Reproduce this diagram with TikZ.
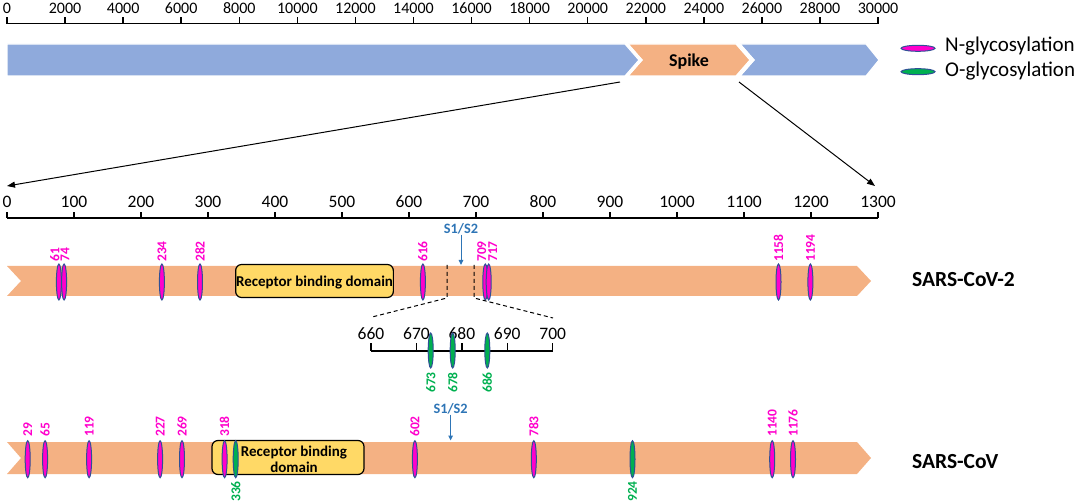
\documentclass[tikz,border=0pt]{standalone}
\usepackage{fontspec}
\setmainfont{Carlito}
\usetikzlibrary{shapes.geometric,arrows.meta}
\definecolor{barblue}{RGB}{143,170,220}
\definecolor{barorange}{RGB}{244,177,131}
\definecolor{rbdyellow}{RGB}{255,217,102}
\definecolor{nmag}{RGB}{255,0,204}
\definecolor{ogreen}{RGB}{0,176,80}
\definecolor{ringblue}{RGB}{47,80,150}
\definecolor{cutblue}{RGB}{46,117,182}
\begin{document}
\begin{tikzpicture}[x=1pt,y=-1pt,
  axisline/.style={line width=1.8pt},
  axtick/.style={line width=1.5pt},
  toplab/.style={font=\fontsize{16}{19}\selectfont, anchor=base, inner sep=0},
  midlab/.style={font=\fontsize{17.5}{20}\selectfont, anchor=base, inner sep=0},
  nsite/.style={ellipse, draw=ringblue, fill=nmag, line width=1pt, minimum width=5pt, minimum height=36pt, inner sep=0},
  osite/.style={nsite, fill=ogreen},
  nlab/.style={rotate=90, anchor=west, inner sep=0, text=nmag, font=\bfseries\fontsize{13.5}{15}\selectfont},
  olab/.style={rotate=90, anchor=east, inner sep=0, text=ogreen, font=\bfseries\fontsize{13.5}{15}\selectfont},
  barseg/.style={draw=white, line width=1.2pt},
  zoomarrow/.style={line width=1pt, -{Triangle[length=8pt,width=6pt]}},
  cutlab/.style={text=cutblue, font=\bfseries\fontsize{14.3}{16}\selectfont, inner sep=0},
  cutarrow/.style={draw=cutblue, line width=1pt, -{Triangle[length=5pt,width=4.5pt]}},
  cutline/.style={dashed, dash pattern=on 4pt off 3pt, line width=1pt},
  rbdbox/.style={draw=black, fill=rbdyellow, line width=1.2pt, rounded corners=6pt, inner sep=0},
  rbdtext/.style={font=\bfseries\fontsize{15}{16.3}\selectfont, inner sep=0, anchor=base, align=center},
  strain/.style={font=\bfseries\fontsize{21.5}{24}\selectfont, inner sep=0, anchor=base west},
  legtext/.style={font=\fontsize{21}{24}\selectfont, inner sep=0, anchor=base west}
]
\useasboundingbox (0,0) rectangle (1081,502);

% ---------- genome axis ----------
\draw[axisline] (7,23.6) -- (878,23.6);
\foreach \i/\v in {0/0,1/2000,2/4000,3/6000,4/8000,5/10000,6/12000,7/14000,8/16000,9/18000,10/20000,11/22000,12/24000,13/26000,14/28000,15/30000} {
  \pgfmathsetmacro\xx{7+\i*58.07}
  \draw[axtick] (\xx,23.6) -- (\xx,16.6);
  \node[toplab] (g\i) at (\xx,13.2) {\v};
}

% ---------- genome bar ----------
\fill[barblue, barseg] (7,44) -- (625,44) -- (639,60) -- (625,76) -- (7,76) -- cycle;
\fill[barorange, barseg] (628,44) -- (736,44) -- (750,60) -- (736,76) -- (628,76) -- (642,60) -- cycle;
\fill[barblue, barseg] (740,44) -- (866,44) -- (879,60) -- (866,76) -- (740,76) -- (754,60) -- cycle;
\draw[barseg] (628,44) -- (642,60) -- (628,76);
\draw[barseg] (740,44) -- (754,60) -- (740,76);
\node[font=\bfseries\fontsize{18}{20}\selectfont, inner sep=0, anchor=base] (spike) at (689,66.5) {Spike};

% ---------- legend ----------
\node[ellipse, draw=ringblue, fill=nmag, line width=1pt, minimum width=34pt, minimum height=6pt, inner sep=0] (legN) at (918,48.3) {};
\node[legtext] (legNt) at (945,52) {N-glycosylation};
\node[ellipse, draw=ringblue, fill=ogreen, line width=1pt, minimum width=34pt, minimum height=6pt, inner sep=0] (legO) at (918,71.7) {};
\node[legtext] (legOt) at (945,77) {O-glycosylation};

% ---------- zoom connectors ----------
\coordinate (spkL) at (620,82);
\coordinate (spkR) at (739,82);
\coordinate (ax0) at (7,186);
\coordinate (ax1300) at (875,186);
\draw[zoomarrow] (spkL) -- (ax0);
\draw[zoomarrow] (spkR) -- (ax1300);

% ---------- protein axis ----------
\draw[axisline] (7,218) -- (878,218);
\foreach \i in {0,...,13} {
  \pgfmathsetmacro\xx{7+\i*67.0}
  \pgfmathtruncatemacro\v{\i*100}
  \draw[axtick] (\xx,218) -- (\xx,212);
  \node[midlab] (p\i) at (\xx,207.3) {\v};
}

% ---------- SARS-CoV-2 ----------
\fill[barorange] (7,266) -- (857,266) -- (871,281) -- (857,296) -- (7,296) -- (21,281) -- cycle;
\node[rbdbox, minimum width=157.7pt, minimum height=33pt] (rbd2) at (314.5,281) {};
\node[rbdtext] (rbd2t) at (314.5,287) {Receptor binding domain};
\foreach \ex/\lx/\lab in {58.9/54.8/61, 64.1/65/74, 161.9/161.9/234, 200/200/282, 422.9/422.9/616, 485.3/481.8/709, 488.7/492.8/717, 778.5/778.5/1158, 810.4/810.4/1194} {
  \node[nsite] (a\lab) at (\ex,282) {};
  \node[nlab] (al\lab) at (\lx,262) {\lab};
}
\node[strain] (cov2) at (912,287) {SARS-CoV-2};
\node[cutlab] (cut2) at (461,229) {S1/S2};
\coordinate (cut2tip) at (461,265);
\draw[cutarrow] (cut2) -- (cut2tip);

% ---------- inset 660-700 ----------
\coordinate (dl1) at (447,265);
\coordinate (dl2) at (447,298);
\coordinate (dr1) at (474,265);
\coordinate (dr2) at (474,298);
\coordinate (in0) at (372,317);
\coordinate (in1) at (553,318);
\draw[cutline] (dl1) -- (dl2) -- (in0);
\draw[cutline] (dr1) -- (dr2) -- (in1);
\draw[axisline] (371,350.7) -- (552.7,350.7);
\foreach \i in {0,...,4} {
  \pgfmathsetmacro\xx{371+\i*45.43}
  \pgfmathtruncatemacro\v{660+\i*10}
  \draw[axtick] (\xx,350.7) -- (\xx,343.3);
  \node[midlab] (z\i) at (\xx,339.3) {\v};
}
\foreach \ex/\lab in {430.7/673, 452.7/678, 487.3/686} {
  \node[osite, minimum height=35pt] (o\lab) at (\ex,350.5) {};
  \node[olab] (ol\lab) at (\ex,372) {\lab};
}

% ---------- SARS-CoV ----------
\fill[barorange] (7,442) -- (857,442) -- (871,458) -- (857,474) -- (7,474) -- (21,458) -- cycle;
\node[rbdbox, minimum width=152pt, minimum height=34pt] (rbd1) at (288,457.5) {};
\node[rbdtext] (rbd1t) at (294,472.3) {Receptor binding\\domain};
\foreach \ex/\lab in {27.7/29, 45.1/65, 89.1/119, 160.1/227, 182/269, 224.6/318, 414.9/602, 533.8/783, 772.2/1140, 793/1176} {
  \node[nsite, minimum height=37pt] (b\lab) at (\ex,459.2) {};
  \node[nlab] (bl\lab) at (\ex,437) {\lab};
}
\foreach \ex/\lab in {235.7/336, 632.5/924} {
  \node[osite, minimum height=37pt] (b\lab) at (\ex,459.2) {};
  \node[olab] (bl\lab) at (\ex,481) {\lab};
}
\node[strain] (cov1) at (912,468) {SARS-CoV};
\node[cutlab] (cut1) at (450.6,409) {S1/S2};
\coordinate (cut1tip) at (450.6,440.5);
\draw[cutarrow] (cut1) -- (cut1tip);
\end{tikzpicture}
\end{document}
